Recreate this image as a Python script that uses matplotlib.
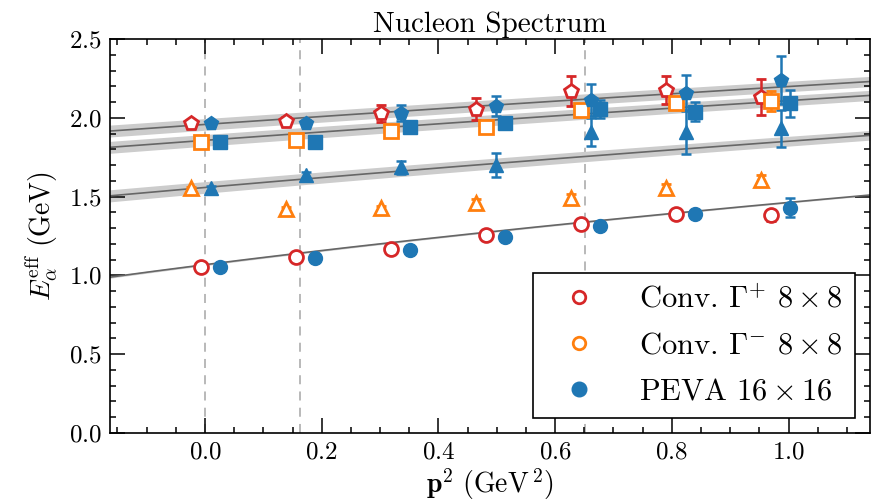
import numpy as np
import matplotlib.pyplot as plt
from matplotlib.lines import Line2D

plt.rcParams['font.family'] = 'serif'
plt.rcParams['font.serif'] = ['cmr10']
plt.rcParams['mathtext.fontset'] = 'cm'
plt.rcParams['axes.formatter.use_mathtext'] = True

# momentum unit (2 pi / L)^2 in GeV^2, n^2 = 0..6
p_unit = 0.1628
n_sq = np.arange(7)
p_sq = n_sq * p_unit

# conventional Gamma+ 8x8 (red)
conv_pos_ground = [1.053, 1.119, 1.166, 1.256, 1.326, 1.390, 1.383]
conv_pos_ground_err = [0.005, 0.008, 0.010, 0.012, 0.015, 0.020, 0.035]
conv_pos_excited = [1.965, 1.982, 2.029, 2.054, 2.170, 2.176, 2.134]
conv_pos_excited_err = [0.015, 0.020, 0.055, 0.070, 0.093, 0.090, 0.114]

# conventional Gamma- 8x8 (orange)
conv_neg_low = [1.553, 1.420, 1.425, 1.462, 1.494, 1.553, 1.605]
conv_neg_low_err = [0.010, 0.012, 0.015, 0.020, 0.025, 0.030, 0.030]
conv_neg_high = [1.845, 1.859, 1.918, 1.940, 2.049, 2.096, 2.107]
conv_neg_high_err = [0.010, 0.012, 0.015, 0.020, 0.030, 0.035, 0.063]

# PEVA 16x16 (blue)
peva_ground = [1.053, 1.108, 1.161, 1.242, 1.315, 1.390, 1.430]
peva_ground_err = [0.005, 0.008, 0.010, 0.012, 0.015, 0.025, 0.062]
peva_tri = [1.553, 1.637, 1.686, 1.700, 1.910, 1.912, 1.933]
peva_tri_err = [0.015, 0.020, 0.040, 0.076, 0.090, 0.140, 0.116]
peva_sq = [1.845, 1.848, 1.944, 1.965, 2.054, 2.039, 2.092]
peva_sq_err = [0.010, 0.012, 0.020, 0.025, 0.058, 0.060, 0.085]
peva_pent = [1.965, 1.969, 2.029, 2.075, 2.113, 2.155, 2.240]
peva_pent_err = [0.015, 0.020, 0.050, 0.063, 0.100, 0.115, 0.155]

# rest masses for the dispersion bands E = sqrt(m^2 + p^2)
fit_mass = [1.068, 1.558, 1.857, 1.958]
fit_err = [0.006, 0.037, 0.037, 0.037]

red = '#d62728'
orange = '#ff7f0e'
blue = '#1f77b4'

fig = plt.figure(figsize=(8.71, 5.03), dpi=100)
ax = fig.add_axes([110 / 871, 1 - 433 / 503, 760 / 871, 394 / 503])

xmin, xmax = -p_unit, 7 * p_unit
pgrid = np.linspace(xmin, xmax, 300)
for m, dm in zip(fit_mass, fit_err):
    lo = np.sqrt((m - dm) ** 2 + pgrid)
    hi = np.sqrt((m + dm) ** 2 + pgrid)
    ax.fill_between(pgrid, lo, hi, color='0.8', lw=0, zorder=1)
    ax.plot(pgrid, np.sqrt(m ** 2 + pgrid), color='0.4', lw=1.2, zorder=2)

for x in [0, p_unit, 4 * p_unit]:
    ax.axvline(x, color='0.7', ls=(0, (5, 4)), lw=1.3, zorder=0)

eb = dict(ls='none', capsize=3.5, elinewidth=1.8, capthick=1.8, ms=10, zorder=3)
open_kw = dict(mfc='white', mew=2)

# red and orange sit slightly left of each momentum, blue slightly right
ax.errorbar(p_sq - 0.007, conv_pos_ground, yerr=conv_pos_ground_err, fmt='o',
            color=red, **open_kw, **eb)
ax.errorbar(p_sq - 0.024, conv_pos_excited, yerr=conv_pos_excited_err, fmt='p',
            color=red, **open_kw, **eb)
ax.errorbar(p_sq - 0.024, conv_neg_low, yerr=conv_neg_low_err, fmt='^',
            color=orange, **open_kw, **eb)
ax.errorbar(p_sq - 0.007, conv_neg_high, yerr=conv_neg_high_err, fmt='s',
            color=orange, **open_kw, **eb)

ax.errorbar(p_sq + 0.025, peva_ground, yerr=peva_ground_err, fmt='o', color=blue, **eb)
ax.errorbar(p_sq + 0.010, peva_tri, yerr=peva_tri_err, fmt='^', color=blue, **eb)
ax.errorbar(p_sq + 0.025, peva_sq, yerr=peva_sq_err, fmt='s', color=blue, **eb)
ax.errorbar(p_sq + 0.010, peva_pent, yerr=peva_pent_err, fmt='p', color=blue, **eb)

ax.set_xlim(xmin, xmax)
ax.set_ylim(0, 2.5)
ax.set_xticks(np.arange(0, 1.01, 0.2))
ax.set_xticks(np.arange(-0.15, 1.14, 0.05), minor=True)
ax.set_yticks(np.arange(0, 2.51, 0.5))
ax.set_yticks(np.arange(0, 2.51, 0.1), minor=True)
ax.tick_params(which='both', direction='in', top=True, right=True, width=1.1,
               labelsize=18, pad=6)
ax.tick_params(which='major', length=11)
ax.tick_params(which='minor', length=4.5)
for s in ax.spines.values():
    s.set_linewidth(1.2)

ax.set_title('Nucleon Spectrum', fontsize=21, pad=5)
ax.set_xlabel(r'$\mathbf{p}^2\ (\mathrm{GeV}^{\,2})$', fontsize=20, labelpad=2)
ax.set_ylabel(r'$E_{\alpha}^{\mathrm{eff}}\ (\mathrm{GeV})$', fontsize=20, labelpad=6)

handles = [
    Line2D([], [], ls='none', marker='o', ms=9, mfc='white', mec=red, mew=2),
    Line2D([], [], ls='none', marker='o', ms=9, mfc='white', mec=orange, mew=2),
    Line2D([], [], ls='none', marker='o', ms=10.5, color=blue),
]
labels = [r'Conv. $\Gamma^{+}$ $8\times8$', r'Conv. $\Gamma^{-}$ $8\times8$',
          r'PEVA $16\times16$']
leg = ax.legend(handles, labels, loc='lower right', fontsize=22, fancybox=False,
                edgecolor='k', framealpha=1, handlelength=2.2, handletextpad=0.85,
                labelspacing=0.6, borderpad=0.4)
leg.get_frame().set_linewidth(1.2)

fig.savefig('out.png', dpi=100)
